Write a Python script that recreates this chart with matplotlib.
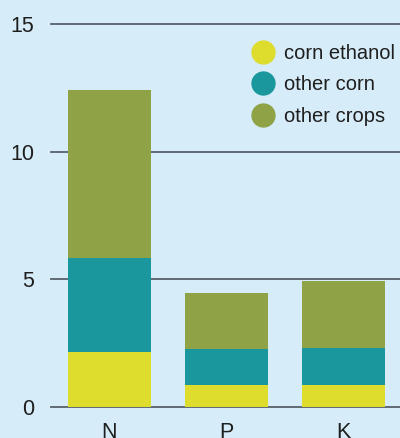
import matplotlib
matplotlib.use("Agg")
import matplotlib.pyplot as plt
from matplotlib.lines import Line2D

# ==============================
# data
# ==============================
nutrients = ["N", "P", "K"]
corn_ethanol = [2.16, 0.84, 0.86]
other_corn = [3.68, 1.41, 1.46]
other_crops = [6.59, 2.23, 2.60]

series_names = ["corn ethanol", "other corn", "other crops"]
colors = ["#DEDC2C", "#1A979C", "#8FA346"]
bg = "#D6ECF8"
grid_c = "#56606A"
text_c = "#1E1E1E"

plt.rcParams["font.family"] = ["Liberation Sans", "DejaVu Sans"]

# ==============================
# figure
# ==============================
fig = plt.figure(figsize=(4, 4.38), dpi=100, facecolor=bg)
ax = fig.add_axes([0.1275, 0.0715, 0.8725, 0.8726], facecolor=bg)

for v in [0, 5, 10, 15]:
    ax.axhline(v, color=grid_c, lw=1.3, zorder=1, clip_on=False)

x = range(len(nutrients))
w = 0.712
bottom2 = [a + b for a, b in zip(corn_ethanol, other_corn)]
ax.bar(x, corn_ethanol, w, color=colors[0], zorder=2)
ax.bar(x, other_corn, w, bottom=corn_ethanol, color=colors[1], zorder=2)
ax.bar(x, other_crops, w, bottom=bottom2, color=colors[2], zorder=2)

ax.set_xlim(-0.5, 2.485)
ax.set_ylim(0, 15)
ax.set_yticks([0, 5, 10, 15])
ax.set_xticks(list(x))
ax.set_xticklabels(nutrients)
ax.tick_params(axis="y", length=0, pad=12, labelsize=15.5, labelcolor=text_c)
ax.tick_params(axis="x", length=0, pad=11, labelsize=15.5, labelcolor=text_c)
for s in ax.spines.values():
    s.set_visible(False)

handles = [Line2D([], [], ls="none", marker="o", ms=16.5, color=c) for c in colors]
leg = ax.legend(handles, series_names, loc="upper right",
                bbox_to_anchor=(1.02, 0.981), frameon=False, fontsize=14.5,
                handlelength=1.0, handletextpad=0.55, labelspacing=0.62,
                borderaxespad=0.2)
for t in leg.get_texts():
    t.set_color(text_c)

plt.savefig("out.png", dpi=100, facecolor=bg)
